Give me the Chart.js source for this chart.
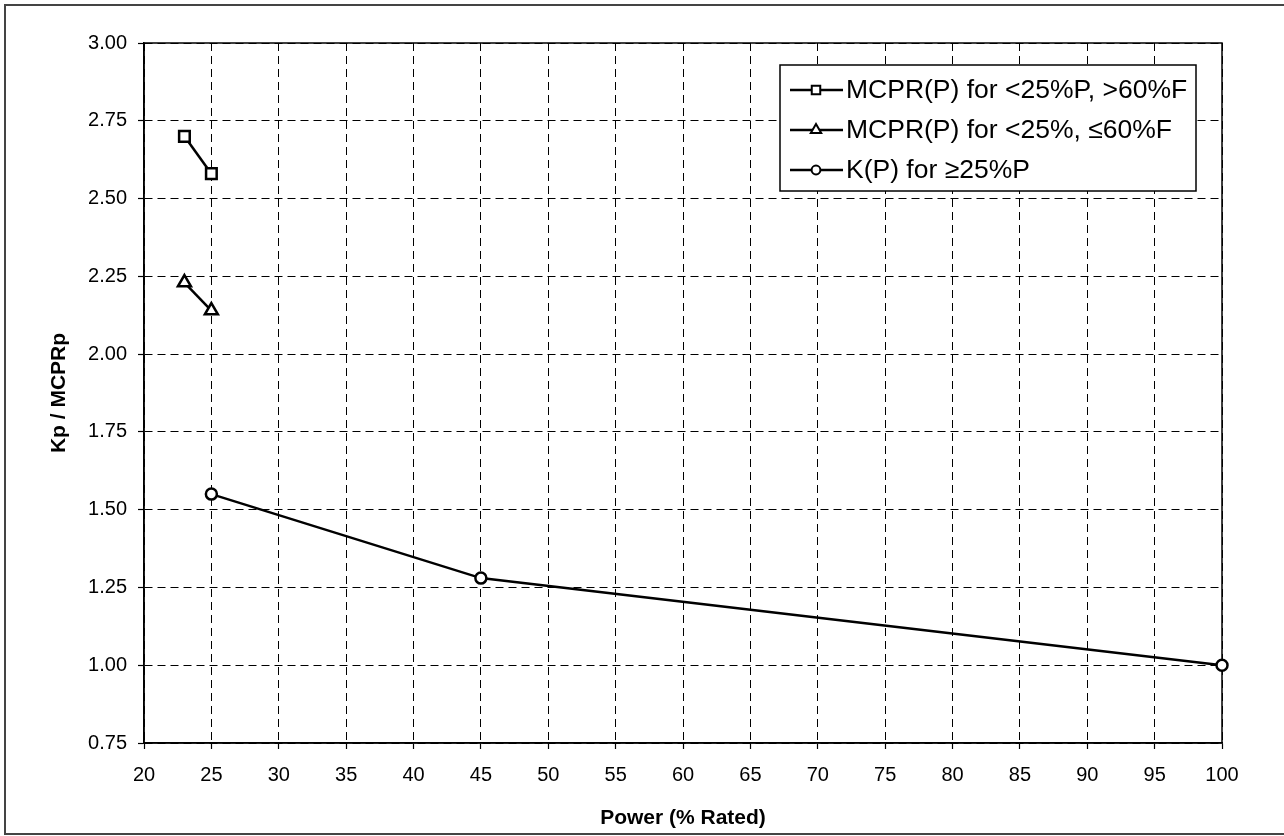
<!DOCTYPE html>
<html lang="en">
<head>
  <meta charset="UTF-8" />
  <title>Kp / MCPRp vs Power</title>
  <script src="https://cdn.jsdelivr.net/npm/chart.js"></script>
  <style>
    body { margin: 0; background: #fff; }
    #wrap { width: 1284px; height: 836px; }
  </style>
</head>
<body>
  <div id="wrap"><canvas id="chart" width="1284" height="836"></canvas></div>

  <script>
    // data
    const powerHighFlow = [23, 25];
    const mcprHighFlow = [2.70, 2.58];
    const powerLowFlow = [23, 25];
    const mcprLowFlow = [2.23, 2.14];
    const powerK = [25, 45, 100];
    const kValues = [1.55, 1.28, 1.00];

    const seriesLabels = [
      'MCPR(P) for <25%P, >60%F',
      'MCPR(P) for <25%, \u226460%F',
      'K(P) for \u226525%P'
    ];
    const xTitle = 'Power (% Rated)';
    const yTitle = 'Kp / MCPRp';

    const FONT = "'Liberation Sans', Arial, sans-serif";

    function toPoints(xs, ys) {
      return xs.map((x, i) => ({ x: x, y: ys[i] }));
    }

    function lineSet(label, xs, ys, style, radius) {
      return {
        label: label,
        data: toPoints(xs, ys),
        borderColor: '#000',
        borderWidth: 2.5,
        pointStyle: style,
        pointRadius: radius,
        pointBorderWidth: 2.5,
        pointBackgroundColor: '#fff',
        pointBorderColor: '#000',
        fill: false,
        clip: false,
        tension: 0
      };
    }

    // outer frame + solid plot border
    const framePlugin = {
      id: 'frame',
      beforeDraw(chart) {
        const c = chart.ctx;
        c.save();
        c.setLineDash([]);
        c.strokeStyle = '#444';
        c.lineWidth = 2;
        c.beginPath();
        c.moveTo(1284, 5);
        c.lineTo(5, 5);
        c.lineTo(5, 834);
        c.lineTo(1284, 834);
        c.stroke();
        c.restore();
      },
      beforeDatasetsDraw(chart) {
        const a = chart.chartArea;
        const c = chart.ctx;
        c.save();
        c.setLineDash([]);
        c.strokeStyle = '#000';
        c.lineWidth = 1.5;
        c.strokeRect(a.left, a.top, a.right - a.left, a.bottom - a.top);
        c.restore();
      }
    };

    // legend box in the upper right of the plot
    const legendPlugin = {
      id: 'boxLegend',
      afterDatasetsDraw(chart) {
        const c = chart.ctx;
        const x0 = 780, y0 = 65, w = 416, h = 126;
        c.save();
        c.setLineDash([]);
        c.fillStyle = '#fff';
        c.fillRect(x0, y0, w, h);
        c.strokeStyle = '#000';
        c.lineWidth = 1.5;
        c.strokeRect(x0, y0, w, h);
        c.font = '26.5px ' + FONT;
        c.textBaseline = 'middle';
        chart.data.datasets.forEach((ds, i) => {
          const y = y0 + 25 + i * 40;
          c.strokeStyle = '#000';
          c.lineWidth = 2.5;
          c.beginPath();
          c.moveTo(790, y);
          c.lineTo(843, y);
          c.stroke();
          c.fillStyle = '#fff';
          c.lineWidth = 2;
          Chart.helpers.drawPoint(c, { pointStyle: ds.pointStyle, radius: ds.pointRadius * 0.8, borderWidth: 2 }, 816, y);
          c.fillStyle = '#000';
          c.fillText(ds.label, 846, y + 1);
        });
        c.restore();
      }
    };

    const gridOpts = {
      color: '#000',
      lineWidth: 1,
      tickLength: 6,
      tickBorderDash: [],
      tickColor: '#000',
      tickWidth: 1.2
    };

    new Chart(document.getElementById('chart'), {
      type: 'line',
      data: {
        datasets: [
          lineSet(seriesLabels[0], powerHighFlow, mcprHighFlow, 'rect', 7.5),
          lineSet(seriesLabels[1], powerLowFlow, mcprLowFlow, 'triangle', 7.5),
          lineSet(seriesLabels[2], powerK, kValues, 'circle', 5.5)
        ]
      },
      options: {
        responsive: false,
        animation: false,
        layout: { padding: { top: 43, right: 62, bottom: 0, left: 0 } },
        plugins: {
          legend: { display: false },
          tooltip: { enabled: false }
        },
        scales: {
          x: {
            type: 'linear',
            min: 20,
            max: 100,
            afterFit: (s) => { s.height = 93; },
            ticks: {
              stepSize: 5,
              color: '#000',
              padding: 14,
              maxRotation: 0,
              font: { family: FONT, size: 20 }
            },
            grid: gridOpts,
            border: { display: true, color: '#000', width: 1.5, dash: [8, 5] },
            title: {
              display: true,
              text: xTitle,
              color: '#000',
              font: { family: FONT, size: 21, weight: 'bold' },
              padding: { top: 0, bottom: 5 }
            }
          },
          y: {
            min: 0.75,
            max: 3.0,
            afterFit: (s) => { s.width = 144; },
            ticks: {
              stepSize: 0.25,
              color: '#000',
              padding: 11,
              font: { family: FONT, size: 20 },
              callback: (v) => Number(v).toFixed(2)
            },
            grid: gridOpts,
            border: { display: true, color: '#000', width: 1.5, dash: [8, 5] },
            title: {
              display: true,
              text: yTitle,
              color: '#000',
              font: { family: FONT, size: 21, weight: 'bold' },
              padding: { top: 47, bottom: 0 }
            }
          }
        }
      },
      plugins: [framePlugin, legendPlugin]
    });
  </script>
</body>
</html>
